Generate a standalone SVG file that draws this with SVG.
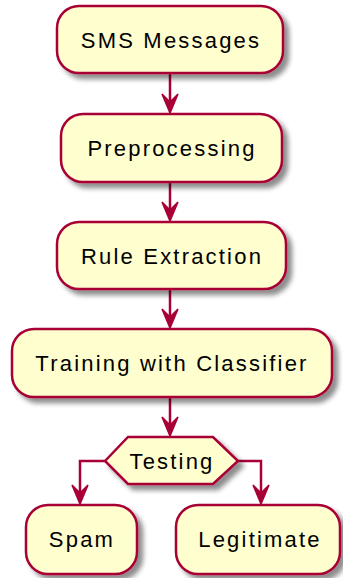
<svg xmlns="http://www.w3.org/2000/svg" width="343" height="578" viewBox="0 0 343 578">
  <style>
    .box { fill: #FEFECE; stroke: #A80036; stroke-width: 2.5; filter: url(#shadow); }
    .label { font-family: "Liberation Sans", Arial, sans-serif; font-size: 22px; letter-spacing: 2.2px; fill: #000000; text-anchor: middle; }
    .edge { fill: none; stroke: #A80036; stroke-width: 2.5; }
    .head { fill: #A80036; stroke: #A80036; stroke-width: 1.5; stroke-linejoin: miter; }
  </style>
  <defs>
    <filter id="shadow" x="-20%" y="-20%" width="150%" height="160%">
      <feGaussianBlur in="SourceAlpha" stdDeviation="2.5"/>
      <feOffset dx="5" dy="5" result="b"/>
      <feComponentTransfer><feFuncA type="linear" slope="0.45"/></feComponentTransfer>
      <feMerge><feMergeNode/><feMergeNode in="SourceGraphic"/></feMerge>
    </filter>
    <polygon id="arrow" points="-8,-19 0,0 8,-19 0,-11"/>
  </defs>

  <g id="connectors">
    <line class="edge" x1="170" y1="73" x2="170" y2="110"/>
    <use href="#arrow" class="head" x="170" y="113"/>
    <line class="edge" x1="170" y1="182" x2="170" y2="218"/>
    <use href="#arrow" class="head" x="170" y="221"/>
    <line class="edge" x1="170" y1="289" x2="170" y2="325"/>
    <use href="#arrow" class="head" x="170" y="328"/>
    <line class="edge" x1="170" y1="397" x2="170" y2="433"/>
    <use href="#arrow" class="head" x="170" y="436"/>
    <polyline class="edge" points="105,461 80,461 80,500"/>
    <use href="#arrow" class="head" x="80" y="504"/>
    <polyline class="edge" points="238,461 261,461 261,500"/>
    <use href="#arrow" class="head" x="261" y="504"/>
  </g>

  <g id="sms-messages">
    <rect class="box" x="57" y="6" width="226" height="67" rx="22"/>
    <text class="label" x="171" y="48">SMS Messages</text>
  </g>
  <g id="preprocessing">
    <rect class="box" x="61" y="114" width="221" height="68" rx="22"/>
    <text class="label" x="172" y="156">Preprocessing</text>
  </g>
  <g id="rule-extraction">
    <rect class="box" x="57" y="222" width="229" height="67" rx="22"/>
    <text class="label" x="172" y="264">Rule Extraction</text>
  </g>
  <g id="training">
    <rect class="box" x="12" y="329" width="320" height="68" rx="22"/>
    <text class="label" x="172" y="371">Training with Classifier</text>
  </g>
  <g id="testing">
    <polygon class="box" points="105,461 128,437 213,437 238,461 213,484 128,484"/>
    <text class="label" x="172" y="469">Testing</text>
  </g>
  <g id="spam">
    <rect class="box" x="26" y="505" width="111" height="69" rx="22"/>
    <text class="label" x="82" y="547">Spam</text>
  </g>
  <g id="legitimate">
    <rect class="box" x="176" y="505" width="164" height="69" rx="22"/>
    <text class="label" x="260" y="547">Legitimate</text>
  </g>
</svg>
